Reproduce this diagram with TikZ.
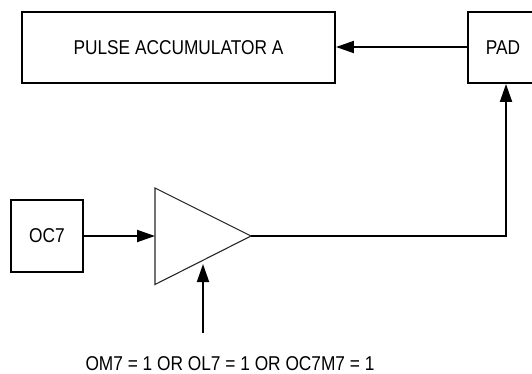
\documentclass[tikz,border=0pt]{standalone}
\usepackage{fontspec}
\setmainfont[FakeStretch=0.865]{Liberation Sans}
\usetikzlibrary{arrows.meta}
\tikzset{
  boxn/.style={draw=black,line width=1.9pt,inner sep=0pt,font=\fontsize{20}{22}\selectfont},
  lab/.style={inner sep=0pt,font=\fontsize{20}{22}\selectfont},
  conn/.style={draw=black,line width=1.9pt,-{Triangle[length=18pt,width=12pt]}}
}
\begin{document}
\begin{tikzpicture}[x=1pt,y=-1pt]
\useasboundingbox (0,0) rectangle (532,373);
\clip (0,0) rectangle (532,373);
\node[boxn,minimum width=313pt,minimum height=71pt] (pa) at (178.5,47.5) {PULSE ACCUMULATOR A};
\node[boxn,minimum width=70pt,minimum height=71pt] (pad) at (503,47.5) {PAD};
\node[boxn,minimum width=72pt,minimum height=72pt] (oc) at (47,236) {OC7};
\coordinate (t1) at (155,188);
\coordinate (t2) at (155,284.5);
\coordinate (t3) at (251,236);
\draw[line width=1.1pt,line join=miter,draw=black!85] (t1) -- (t3) -- (t2) -- cycle;
\coordinate (tin) at (155,236);
\coordinate (tbot) at (203,264);
\coordinate (cb) at (203,333);
\node[lab] (cond) at (230,363.5) {OM7 = 1 OR OL7 = 1 OR OC7M7 = 1};
\draw[conn] ([yshift=0.5pt]pad.west) -- ([yshift=0.5pt]pa.east);
\draw[conn] (oc.east) -- (tin);
\draw[conn] (cb) -- (tbot);
\draw[conn] (t3) -| ([xshift=3pt]pad.south);
\end{tikzpicture}
\end{document}
